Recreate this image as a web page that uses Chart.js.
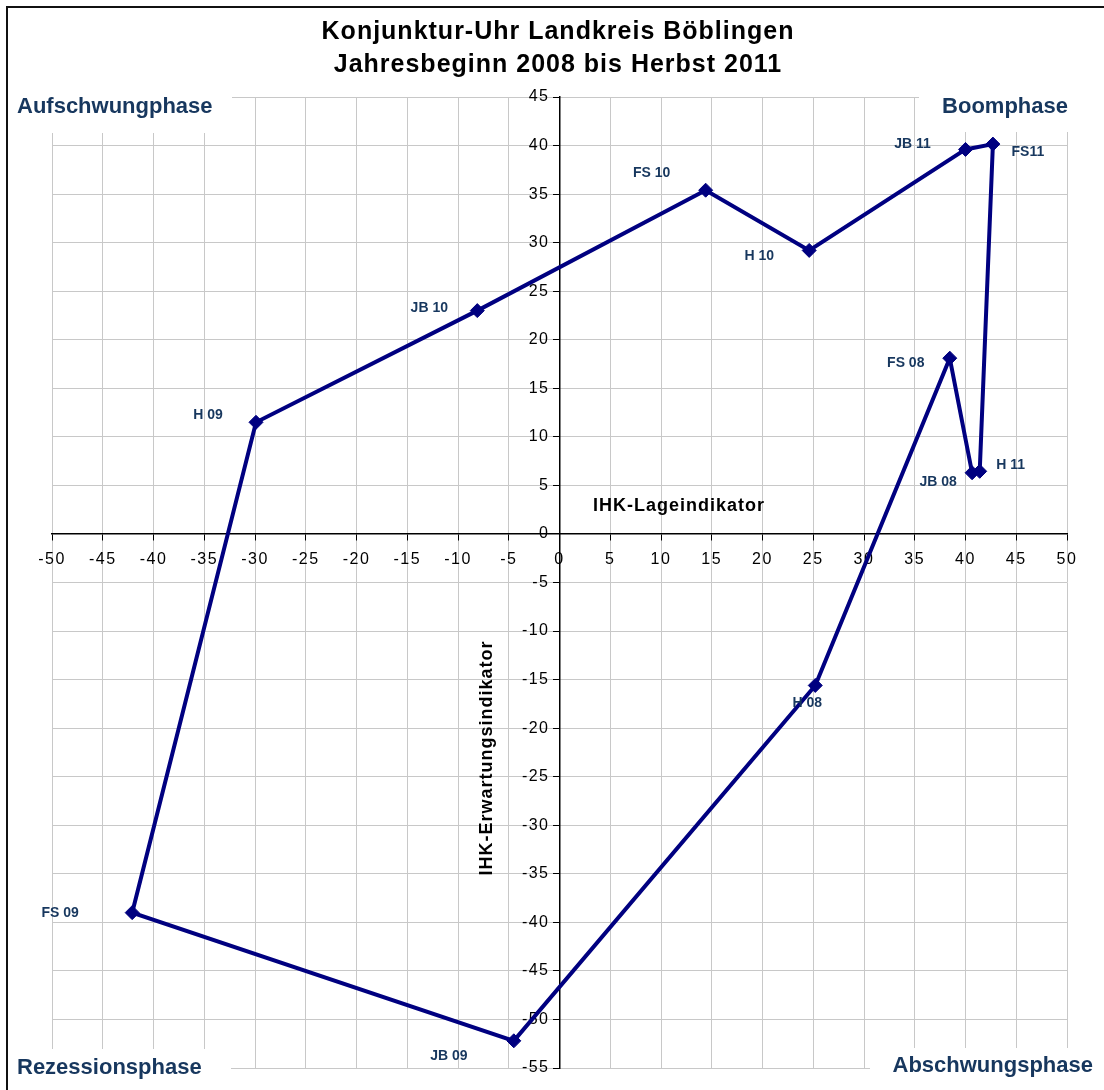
<!DOCTYPE html>
<html>
<head>
<meta charset="utf-8">
<script src="https://cdn.jsdelivr.net/npm/chart.js@4.4.1/dist/chart.umd.min.js"></script>
<style>
  html, body { margin: 0; padding: 0; background: #ffffff; }
  canvas { display: block; }
</style>
</head>
<body>
<canvas id="c" width="1104" height="1090"></canvas>
<script>
// ---------- DATA ----------
const pointLabels     = ['JB 08', 'FS 08', 'H 08', 'JB 09', 'FS 09', 'H 09', 'JB 10', 'FS 10', 'H 10', 'JB 11', 'FS11', 'H 11'];
const lageValues      = [40.65, 38.45, 25.2, -4.5, -42.1, -29.9, -8.1, 14.4, 24.6, 40.0, 42.7, 41.4];
const erwartungValues = [6.3, 18.1, -15.6, -52.2, -39.0, 11.5, 23.0, 35.4, 29.2, 39.6, 40.15, 6.45];
const xTickValues = [-50, -45, -40, -35, -30, -25, -20, -15, -10, -5, 0, 5, 10, 15, 20, 25, 30, 35, 40, 45, 50];
const yTickValues = [-55, -50, -45, -40, -35, -30, -25, -20, -15, -10, -5, 0, 5, 10, 15, 20, 25, 30, 35, 40, 45];
const titleLines  = ['Konjunktur-Uhr Landkreis Böblingen', 'Jahresbeginn 2008 bis Herbst 2011'];
const phaseLabels = ['Aufschwungphase', 'Boomphase', 'Rezessionsphase', 'Abschwungsphase'];
const xAxisTitle  = 'IHK-Lageindikator';
const yAxisTitle  = 'IHK-Erwartungsindikator';

// ---------- STYLE ----------
const FONT = '"Liberation Sans", Arial, sans-serif';
const NAVY = '#000080';
const LABEL_BLUE = '#17375E';
// point label offsets in px relative to the marker (style only)
const labelOffsets = [[-34, 9], [-44, 5], [-8, 18], [-65, 15], [-72, 1], [-48, -7], [-48, -2], [-54, -17], [-50, 6], [-53, -5], [35, 8], [31, -6]];
// phase label placement: [anchorX, centerY, align, box x, box y, box w, box h]
const phaseLayout = [
  [17, 107, 'left', 8, 86, 224, 47],
  [1068, 107, 'right', 919, 86, 185, 46],
  [17, 1068, 'left', 8, 1049, 223, 41],
  [1093, 1066, 'right', 870, 1048, 234, 42]
];

const points = lageValues.map((x, i) => ({ x: x, y: erwartungValues[i] }));

const decorPlugin = {
  id: 'decor',
  beforeDraw(chart) {
    chart.ctx.letterSpacing = '1.5px';
  },
  beforeDatasetsDraw(chart) {
    const ctx = chart.ctx;
    ctx.save();
    ctx.fillStyle = '#ffffff';
    phaseLayout.forEach(p => ctx.fillRect(p[3], p[4], p[5], p[6]));
    // y tick labels, placed left of the centred y axis
    const xs = chart.scales.x, ys = chart.scales.y;
    const axisX = xs.getPixelForValue(0);
    ctx.letterSpacing = '1.5px';
    ctx.font = '16px ' + FONT;
    ctx.fillStyle = '#000000';
    ctx.textAlign = 'right';
    ctx.textBaseline = 'middle';
    ys.ticks.forEach(t => {
      ctx.fillText(t.label, axisX - 10, ys.getPixelForValue(t.value));
    });
    ctx.restore();
  },
  afterDatasetsDraw(chart) {
    const ctx = chart.ctx;
    const meta = chart.getDatasetMeta(0);
    ctx.save();
    ctx.letterSpacing = '0px';
    ctx.font = 'bold 14px ' + FONT;
    ctx.fillStyle = LABEL_BLUE;
    ctx.textAlign = 'center';
    ctx.textBaseline = 'middle';
    meta.data.forEach((el, i) => {
      const o = labelOffsets[i];
      ctx.fillText(pointLabels[i], el.x + o[0], el.y + o[1]);
    });
    ctx.restore();
  },
  afterDraw(chart) {
    const ctx = chart.ctx;
    ctx.save();
    // title
    ctx.letterSpacing = '1px';
    ctx.font = 'bold 25px ' + FONT;
    ctx.fillStyle = '#000000';
    ctx.textAlign = 'center';
    ctx.textBaseline = 'middle';
    ctx.fillText(titleLines[0], 558, 32);
    ctx.fillText(titleLines[1], 558, 65);
    // phase labels
    ctx.letterSpacing = '0px';
    ctx.font = 'bold 22px ' + FONT;
    ctx.fillStyle = LABEL_BLUE;
    phaseLayout.forEach((p, i) => {
      ctx.textAlign = p[2];
      ctx.fillText(phaseLabels[i], p[0], p[1]);
    });
    // axis titles
    ctx.letterSpacing = '1px';
    ctx.font = 'bold 18px ' + FONT;
    ctx.fillStyle = '#000000';
    ctx.textAlign = 'center';
    ctx.fillText(xAxisTitle, 679, 506);
    ctx.translate(487, 758);
    ctx.rotate(-Math.PI / 2);
    ctx.fillText(yAxisTitle, 0, 0);
    ctx.restore();
    // frame
    ctx.save();
    ctx.strokeStyle = '#111111';
    ctx.lineWidth = 2;
    ctx.beginPath();
    ctx.moveTo(7, 1090);
    ctx.lineTo(7, 7);
    ctx.lineTo(1104, 7);
    ctx.stroke();
    ctx.restore();
  }
};

new Chart(document.getElementById('c'), {
  type: 'scatter',
  data: {
    datasets: [{
      data: points,
      showLine: true,
      borderColor: NAVY,
      borderWidth: 4,
      backgroundColor: NAVY,
      pointStyle: 'rectRot',
      pointRadius: 7,
      pointBorderWidth: 1,
      pointBackgroundColor: NAVY,
      pointBorderColor: NAVY,
      tension: 0
    }]
  },
  options: {
    responsive: false,
    animation: false,
    events: [],
    layout: { padding: { left: 52, right: 37, top: 97, bottom: 22 } },
    plugins: {
      legend: { display: false },
      title: { display: false },
      tooltip: { enabled: false }
    },
    scales: {
      x: {
        type: 'linear',
        position: { y: 0 },
        min: xTickValues[0],
        max: xTickValues[xTickValues.length - 1],
        afterBuildTicks: s => { s.ticks = xTickValues.map(v => ({ value: v })); },
        grid: { color: '#c8c8c8', lineWidth: 1, tickLength: 6, tickColor: '#000000', tickWidth: 1 },
        border: { color: '#000000', width: 1.5 },
        ticks: { color: '#000000', font: { family: FONT, size: 16 }, padding: 10, maxRotation: 0, autoSkip: false }
      },
      y: {
        type: 'linear',
        position: { x: 0 },
        min: yTickValues[0],
        max: yTickValues[yTickValues.length - 1],
        afterBuildTicks: s => { s.ticks = yTickValues.map(v => ({ value: v })); },
        grid: { color: '#c8c8c8', lineWidth: 1, tickLength: 6, tickColor: '#000000', tickWidth: 1 },
        border: { color: '#000000', width: 1.5 },
        ticks: { display: false, autoSkip: false }
      }
    }
  },
  plugins: [decorPlugin]
});
</script>
</body>
</html>
